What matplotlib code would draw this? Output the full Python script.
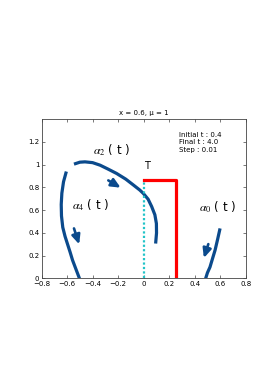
import matplotlib
matplotlib.use("Agg")
import matplotlib.pyplot as plt

# ---------------------------------------------------
# DATA
# ---------------------------------------------------

a4_x = [-0.606, -0.628, -0.641, -0.646, -0.644, -0.634, -0.616, -0.596, -0.576, -0.557, -0.530, -0.503]
a4_y = [0.940, 0.850, 0.750, 0.650, 0.550, 0.450, 0.370, 0.300, 0.230, 0.160, 0.080, 0.000]

a2_x = [-0.546, -0.500, -0.460, -0.400, -0.342, -0.280, -0.212, -0.140, -0.081, -0.030, -0.003, 0.035, 0.063, 0.088, 0.100, 0.101, 0.094]
a2_y = [1.005, 1.022, 1.025, 1.018, 0.996, 0.962, 0.923, 0.873, 0.822, 0.777, 0.748, 0.697, 0.632, 0.560, 0.483, 0.400, 0.307]

a0_x = [0.486, 0.500, 0.520, 0.540, 0.560, 0.580, 0.599]
a0_y = [0.000, 0.050, 0.100, 0.175, 0.249, 0.345, 0.440]

T_x = [0.0, 0.25, 0.25]
T_y = [0.865, 0.865, 0.0]

arrows = [
    ((-0.277, 0.862), (-0.180, 0.798)),
    ((-0.546, 0.440), (-0.505, 0.300)),
    ((0.507, 0.302), (0.472, 0.180)),
]

# ---------------------------------------------------
# STYLE
# ---------------------------------------------------

plt.rcParams["font.family"] = ["DejaVu Sans"]
plt.rcParams["mathtext.fontset"] = "stix"

blue = "#0b4a8c"

fig = plt.figure(figsize=(2.70, 3.82), dpi=100)
ax = fig.add_axes([0.154, 0.271, 0.756, 0.417])

for xs, ys in [(a4_x, a4_y), (a2_x, a2_y), (a0_x, a0_y)]:
    ax.plot(xs, ys, color=blue, linewidth=2.3, solid_capstyle="butt",
            solid_joinstyle="round")

ax.plot([0, 0], [0, 0.865], color="#22c4c8", linewidth=1.6, linestyle=(0, (1, 1)))
ax.plot(T_x, T_y, color="#ff0000", linewidth=2.3)

for start, end in arrows:
    ax.annotate(
        "",
        xy=end,
        xytext=start,
        arrowprops=dict(arrowstyle="-|>,head_length=0.55,head_width=0.25",
                        color=blue, linewidth=1.9, shrinkA=0, shrinkB=0),
    )

label_kw = dict(fontsize=8.5, va="center", ha="left")
ax.text(-0.40, 1.13, r"$\alpha_2$ ( t )", **label_kw)
ax.text(-0.56, 0.64, r"$\alpha_4$ ( t )", **label_kw)
ax.text(0.435, 0.63, r"$\alpha_0$ ( t )", **label_kw)
ax.text(0.005, 0.985, "T", fontsize=7, va="center")

ax.text(0.28, 1.29, "Initial t : 0.4\nFinal t : 4.0\nStep : 0.01",
        fontsize=5, va="top", ha="left", linespacing=1.35)

ax.set_title("x = 0.6, \u03bc = 1", fontsize=5, pad=3)

ax.set_xlim(-0.8, 0.8)
ax.set_ylim(0, 1.4)
ax.set_xticks([-0.8, -0.6, -0.4, -0.2, 0, 0.2, 0.4, 0.6, 0.8])
ax.set_xticklabels(["\u22120.8", "\u22120.6", "\u22120.4", "\u22120.2", "0", "0.2", "0.4", "0.6", "0.8"])
ax.set_yticks([0, 0.2, 0.4, 0.6, 0.8, 1.0, 1.2])
ax.set_yticklabels(["0", "0.2", "0.4", "0.6", "0.8", "1", "1.2"])
ax.tick_params(direction="in", top=True, right=True, labelsize=5,
               length=2.5, width=0.5, pad=1.5, color="#444444")
for s in ax.spines.values():
    s.set_linewidth(0.6)
    s.set_color("#444444")

fig.savefig("out.png", dpi=100)
